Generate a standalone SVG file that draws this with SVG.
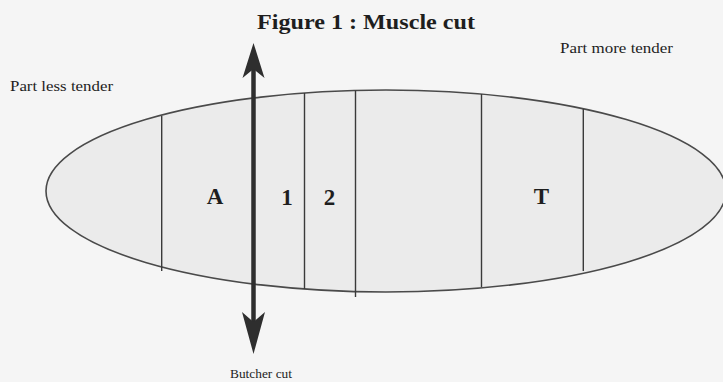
<svg xmlns="http://www.w3.org/2000/svg" width="723" height="382" viewBox="0 0 723 382">
<style>
.bg{fill:#f5f5f5}
.body{fill:#ebebeb;stroke:#4a4a4a;stroke-width:1.6}
.div{stroke:#3a3a3a;stroke-width:1.4;fill:none}
.cut{stroke:#2e2e2e;stroke-width:4.5;fill:none}
.head{fill:#2e2e2e}
.t{font-family:"Liberation Serif","Times New Roman",serif;fill:#1e1e1e}
.title{font-size:22px;font-weight:bold}
.lbl{font-size:23px;font-weight:bold}
.note{font-size:14px}
.small{font-size:12px}
</style>
<rect class="bg" x="0" y="0" width="723" height="382"/>
<text class="t title" x="257" y="29" textLength="218" lengthAdjust="spacingAndGlyphs">Figure 1 : Muscle cut</text>
<g id="muscle">
<ellipse class="body" cx="386" cy="191" rx="340" ry="101"/>
<g id="dividers">
<line class="div" x1="161.7" y1="116" x2="161.7" y2="271"/>
<line class="div" x1="304.5" y1="93" x2="304.5" y2="289"/>
<line class="div" x1="355.5" y1="90.5" x2="355.5" y2="297"/>
<line class="div" x1="481.5" y1="94" x2="481.5" y2="287"/>
<line class="div" x1="583.3" y1="109" x2="583.3" y2="271"/>
</g>
</g>
<g id="part-A"><text class="t lbl" x="215" y="204" text-anchor="middle">A</text></g>
<g id="part-1"><text class="t lbl" x="287" y="205" text-anchor="middle">1</text></g>
<g id="part-2"><text class="t lbl" x="329.5" y="205" text-anchor="middle">2</text></g>
<g id="part-T"><text class="t lbl" x="541.5" y="204" text-anchor="middle">T</text></g>
<g id="label-less"><text class="t note" x="10" y="91" textLength="103" lengthAdjust="spacingAndGlyphs">Part less tender</text></g>
<g id="label-more"><text class="t note" x="560" y="53" textLength="113" lengthAdjust="spacingAndGlyphs">Part more tender</text></g>
<g id="connectors">
<line class="cut" x1="253.5" y1="66" x2="253.5" y2="324"/>
<path class="head" d="M253.5,43 L264.5,78 L253.5,69 L242.5,78 Z"/>
<path class="head" d="M253.5,354 L265,312 L253.5,322 L242,312 Z"/>
</g>
<g id="label-butcher"><text class="t small" x="261" y="378" text-anchor="middle" textLength="62" lengthAdjust="spacingAndGlyphs">Butcher cut</text></g>
</svg>
